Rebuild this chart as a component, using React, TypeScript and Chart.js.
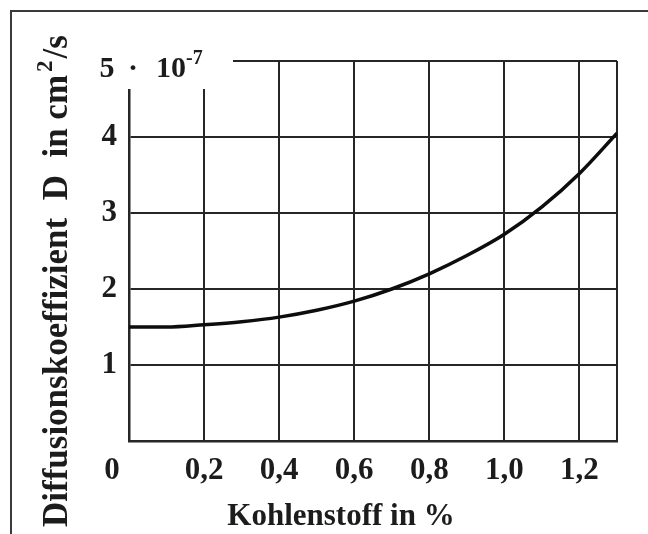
import React, { useEffect, useRef } from "react";
import { Chart, registerables } from "chart.js";

Chart.register(...registerables);

// ---- data ----
const carbonPercent = [0, 0.1, 0.2, 0.3, 0.4, 0.5, 0.6, 0.7, 0.8, 0.9, 1.0, 1.1, 1.2, 1.3];
const diffusionD = [1.5, 1.5, 1.53, 1.57, 1.63, 1.72, 1.84, 2.0, 2.2, 2.44, 2.72, 3.08, 3.52, 4.05];

const xGridValues = [0, 0.2, 0.4, 0.6, 0.8, 1.0, 1.2, 1.3];
const xTickValues = [0.2, 0.4, 0.6, 0.8, 1.0, 1.2];
const xTickLabels = ["0,2", "0,4", "0,6", "0,8", "1,0", "1,2"];
const yTickValues = [1, 2, 3, 4];
const yTickLabels = ["1", "2", "3", "4"];
const originLabel = "0";
const yTopParts = ["5", "·", "10"];
const yTopExponent = "-7";
const xTitle = "Kohlenstoff in %";
const yTitleMain = "Diffusionskoeffizient  D  in cm";
const yTitleSup = "2";
const yTitleEnd = "/s";

const FONT = "'Liberation Serif', 'DejaVu Serif', serif";
const INK = "#1c1c1c";

const decorPlugin = {
  id: "decor",
  beforeDatasetsDraw(chart: any) {
    const { ctx } = chart;
    const xs = chart.scales.x;
    const ys = chart.scales.y;
    ctx.save();
    ctx.fillStyle = "#ffffff";
    const left0 = xs.getPixelForValue(0);
    const top5 = ys.getPixelForValue(5);
    ctx.fillRect(left0 - 40, top5 - 20, 144, 48);
    ctx.restore();
  },
  afterDraw(chart: any) {
    const { ctx } = chart;
    const xs = chart.scales.x;
    const ys = chart.scales.y;
    const left0 = xs.getPixelForValue(0);
    const top5 = ys.getPixelForValue(5);
    const bottom0 = ys.getPixelForValue(0);
    ctx.save();
    ctx.fillStyle = INK;
    ctx.textBaseline = "alphabetic";
    // unit label at the top of the y axis
    const ly = top5 + 16;
    ctx.font = `bold 30px ${FONT}`;
    ctx.textAlign = "center";
    ctx.fillText(yTopParts[0], left0 - 22, ly);
    ctx.fillText(yTopParts[1], left0 + 4, ly);
    ctx.textAlign = "left";
    ctx.fillText(yTopParts[2], left0 + 27, ly);
    const w = ctx.measureText(yTopParts[2]).width;
    ctx.font = `bold 20px ${FONT}`;
    ctx.fillText(yTopExponent, left0 + 27 + w, ly - 13);

    // origin label
    ctx.font = `bold 31px ${FONT}`;
    ctx.textAlign = "center";
    ctx.fillText(originLabel, left0 - 17, bottom0 + 38);

    // x title
    ctx.font = `bold 31px ${FONT}`;
    ctx.textAlign = "center";
    ctx.fillText(xTitle, 341, 525);

    // y title (rotated)
    ctx.translate(67, 527);
    ctx.rotate(-Math.PI / 2);
    ctx.textAlign = "left";
    ctx.font = `bold 35px ${FONT}`;
    ctx.fillText(yTitleMain, 0, 0);
    const w1 = ctx.measureText(yTitleMain).width;
    ctx.font = `bold 23px ${FONT}`;
    ctx.fillText(yTitleSup, w1 + 3, -15);
    const w2 = ctx.measureText(yTitleSup).width;
    ctx.font = `bold 35px ${FONT}`;
    ctx.fillText(yTitleEnd, w1 + w2 + 5, 0);
    ctx.restore();
  },
};

export default function App() {
  const canvasRef = useRef<HTMLCanvasElement | null>(null);

  useEffect(() => {
    document.body.style.margin = "0";
    const canvas = canvasRef.current;
    if (!canvas) return;
    const chart = new Chart(canvas, {
      type: "line",
      data: {
        datasets: [
          {
            data: carbonPercent.map((x, i) => ({ x, y: diffusionD[i] })),
            borderColor: "#0d0d0d",
            borderWidth: 3.5,
            pointRadius: 0,
            fill: false,
            cubicInterpolationMode: "monotone",
          },
        ],
      },
      options: {
        animation: false,
        responsive: false,
        maintainAspectRatio: false,
        layout: { padding: { left: 0, right: 31, top: 61, bottom: 0 } },
        plugins: { legend: { display: false }, tooltip: { enabled: false } },
        scales: {
          x: {
            type: "linear",
            min: 0,
            max: 1.3,
            afterBuildTicks: (s: any) => {
              s.ticks = xGridValues.map((v) => ({ value: v }));
            },
            ticks: {
              autoSkip: false,
              maxRotation: 0,
              padding: 11,
              color: INK,
              font: { family: FONT, size: 31, weight: "bold" },
              callback: (v: any) => {
                const i = xTickValues.findIndex((t) => Math.abs(t - Number(v)) < 1e-6);
                return i >= 0 ? xTickLabels[i] : "";
              },
            },
            grid: { color: "#262626", lineWidth: 2, drawTicks: false },
            border: { color: "#262626", width: 2.5 },
            afterFit: (s: any) => {
              s.height = 93;
            },
          },
          y: {
            type: "linear",
            min: 0,
            max: 5,
            ticks: {
              stepSize: 1,
              padding: 12,
              color: INK,
              font: { family: FONT, size: 31, weight: "bold" },
              callback: (v: any) => {
                const i = yTickValues.findIndex((t) => Math.abs(t - Number(v)) < 1e-6);
                return i >= 0 ? yTickLabels[i] : "";
              },
            },
            grid: { color: "#262626", lineWidth: 2, drawTicks: false },
            border: { color: "#262626", width: 2.5 },
            afterFit: (s: any) => {
              s.width = 129;
            },
          },
        },
      },
      plugins: [decorPlugin],
    });
    return () => chart.destroy();
  }, []);

  return (
    <div style={{ position: "absolute", left: 0, top: 0, width: 648, height: 534, background: "#fff", overflow: "hidden" }}>
      <div
        style={{
          position: "absolute",
          left: 10,
          top: 10,
          width: 660,
          height: 540,
          borderLeft: "2px solid #3a3a3a",
          borderTop: "2px solid #3a3a3a",
        }}
      />
      <canvas ref={canvasRef} width={648} height={534} style={{ position: "absolute", left: 0, top: 0 }} />
    </div>
  );
}
